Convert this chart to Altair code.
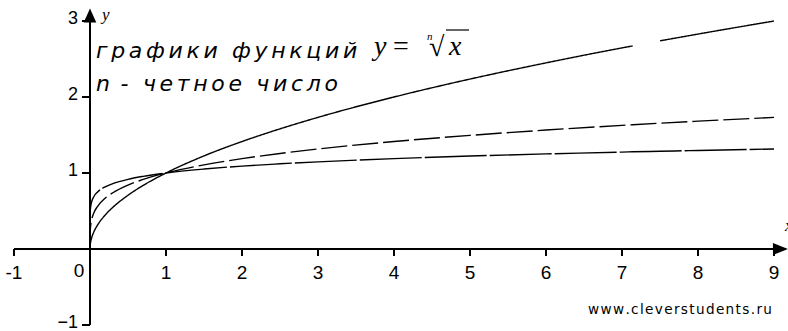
import altair as alt
import pandas as pd

# Sample points of the even-degree root functions y = x^(1/n)
xs = [0, 0.001, 0.005, 0.01, 0.02, 0.05, 0.1, 0.2, 0.3, 0.5, 0.7, 1,
      1.5, 2, 2.5, 3, 4, 5, 6, 7, 7.14, 7.5, 8, 9]
root2 = [0, 0.032, 0.071, 0.1, 0.141, 0.224, 0.316, 0.447, 0.548, 0.707, 0.837, 1,
         1.225, 1.414, 1.581, 1.732, 2, 2.236, 2.449, 2.646, 2.672, 2.739, 2.828, 3]
root4 = [0, 0.178, 0.266, 0.316, 0.376, 0.473, 0.562, 0.669, 0.740, 0.841, 0.915, 1,
         1.107, 1.189, 1.257, 1.316, 1.414, 1.495, 1.565, 1.627, 1.635, 1.655, 1.682, 1.732]
root8 = [0, 0.422, 0.516, 0.562, 0.613, 0.688, 0.750, 0.818, 0.860, 0.917, 0.956, 1,
         1.052, 1.091, 1.121, 1.147, 1.189, 1.223, 1.251, 1.275, 1.279, 1.286, 1.297, 1.316]
degrees = ["2", "4", "8"]
# the square-root curve is drawn in two pieces, broken between these x values
break_after = 7.14

x_ticks = [-1, 1, 2, 3, 4, 5, 6, 7, 8, 9]
x_tick_labels = ["-1", "1", "2", "3", "4", "5", "6", "7", "8", "9"]
y_ticks = [3, 2, 1, -1]
y_tick_labels = ["3", "2", "1", "\u22121"]

caption_words_1 = ["графики", "функций"]
caption_words_2 = ["n", "-"]
caption_words_3 = ["четное", "число"]

W, H = 788, 331
PX = 76.0             # pixels per unit on both axes
X0, Y0 = 90.0, 249.0  # pixel position of the origin

xscale = alt.Scale(domain=[-X0 / PX, (W - X0) / PX], nice=False, zero=False)
yscale = alt.Scale(domain=[-(H - Y0) / PX, Y0 / PX], nice=False, zero=False)

rows = []
for n, ys in zip(degrees, (root2, root4, root8)):
    for x, y in zip(xs, ys):
        piece = 1 if (n == "2" and x > break_after) else 0
        rows.append({"x": x, "y": y, "n": n, "piece": piece})
curves_df = pd.DataFrame(rows)

one = alt.Data(values=[{}])

curves = alt.Chart(curves_df).mark_line(
    color="black", strokeWidth=1.4, interpolate="monotone"
).encode(
    x=alt.X("x:Q", scale=xscale, axis=None),
    y=alt.Y("y:Q", scale=yscale, axis=None),
    strokeDash=alt.StrokeDash(
        "n:N",
        scale=alt.Scale(domain=degrees, range=[[1, 0], [26, 5], [62, 3]]),
        legend=None,
    ),
    detail="piece:N",
)

x_axis = alt.Chart(one).mark_rule(color="black", strokeWidth=2).encode(
    x=alt.datum(-1, scale=xscale), x2=alt.datum(9.1), y=alt.datum(0, scale=yscale)
)
y_axis = alt.Chart(one).mark_rule(color="black", strokeWidth=2).encode(
    x=alt.datum(0, scale=xscale), y=alt.datum(-1, scale=yscale), y2=alt.datum(3.05)
)
x_arrow = alt.Chart(one).mark_point(
    shape="M-1,-0.8L1,0L-1,0.8Z", filled=True, color="black", size=225, opacity=1
).encode(x=alt.datum(9.085, scale=xscale), y=alt.datum(0, scale=yscale))
y_arrow = alt.Chart(one).mark_point(
    shape="M0,-1L0.9,1L-0.9,1Z", filled=True, color="black", size=196, opacity=1
).encode(x=alt.datum(0, scale=xscale), y=alt.datum(3.072, scale=yscale))

xt_df = pd.DataFrame({"v": x_ticks, "label": x_tick_labels})
yt_df = pd.DataFrame({"v": y_ticks, "label": y_tick_labels})

x_tick_marks = alt.Chart(xt_df).mark_rule(color="black", strokeWidth=2).encode(
    x=alt.X("v:Q", scale=xscale), y=alt.value(Y0), y2=alt.value(Y0 + 7)
)
y_tick_marks = alt.Chart(yt_df).mark_rule(color="black", strokeWidth=2).encode(
    y=alt.Y("v:Q", scale=yscale), x=alt.value(X0 - 8), x2=alt.value(X0)
)

label_font = "Liberation Sans"
x_tick_text = alt.Chart(xt_df).mark_text(
    font=label_font, fontSize=19, baseline="middle", align="center", color="black"
).encode(x=alt.X("v:Q", scale=xscale), y=alt.value(Y0 + 24), text="label:N")
y_tick_text = alt.Chart(yt_df).mark_text(
    font=label_font, fontSize=18, baseline="middle", align="right", color="black",
    dx=-12, dy=-2,
).encode(y=alt.Y("v:Q", scale=yscale), x=alt.value(X0), text="label:N")
origin_text = alt.Chart(one).mark_text(
    font=label_font, fontSize=19, baseline="middle", align="center", color="black"
).encode(x=alt.value(79), y=alt.value(271), text=alt.value("0"))

axis_name_y = alt.Chart(one).mark_text(
    font="Liberation Serif", fontStyle="italic", fontSize=17, align="left",
    baseline="alphabetic", color="black"
).encode(x=alt.value(102), y=alt.value(20), text=alt.value("y"))
axis_name_x = alt.Chart(one).mark_text(
    font="Liberation Serif", fontStyle="italic", fontSize=17, align="left",
    baseline="alphabetic", color="black"
).encode(x=alt.value(785), y=alt.value(231), text=alt.value("x"))

# letter-spaced caption: narrow spaces between letters, wider gaps between words
sp = "\u2006"
nb = "\u00a0"
gap = sp + nb + sp
line1 = gap.join(sp.join(w) for w in caption_words_1)
line2 = (nb + sp).join(caption_words_2) + sp + nb + sp + \
    gap.join(sp.join(w) for w in caption_words_3)

caption_style = dict(font="DejaVu Sans", fontStyle="italic", fontSize=22, align="left",
                     baseline="alphabetic", color="black")
caption = alt.Chart(one).mark_text(**caption_style).encode(
    x=alt.value(96), y=alt.value(58), text=alt.value(line1))
caption2 = alt.Chart(one).mark_text(**caption_style).encode(
    x=alt.value(96), y=alt.value(91), text=alt.value(line2))

formula_font = dict(font="Liberation Serif", fontStyle="italic", color="black",
                    baseline="alphabetic", align="left")
formula_y = alt.Chart(one).mark_text(fontSize=28, **formula_font).encode(
    x=alt.value(374), y=alt.value(55), text=alt.value("y"))
formula_eq = alt.Chart(one).mark_text(
    fontSize=28, font="Liberation Serif", color="black", baseline="alphabetic", align="left"
).encode(x=alt.value(393), y=alt.value(55), text=alt.value("="))
formula_root = alt.Chart(one).mark_text(
    fontSize=28, font="Liberation Serif", color="black", baseline="alphabetic", align="left"
).encode(x=alt.value(429), y=alt.value(56), text=alt.value("\u221a"))
formula_x = alt.Chart(one).mark_text(fontSize=28, **formula_font).encode(
    x=alt.value(449), y=alt.value(55), text=alt.value("x"))
formula_index = alt.Chart(one).mark_text(fontSize=11, **formula_font).encode(
    x=alt.value(427), y=alt.value(40), text=alt.value("n"))
formula_bar = alt.Chart(one).mark_rule(color="black", strokeWidth=1.2).encode(
    x=alt.value(446), x2=alt.value(469), y=alt.value(30))

watermark = alt.Chart(one).mark_text(
    font="DejaVu Sans", fontSize=13.6, align="left", baseline="alphabetic", color="black"
).encode(x=alt.value(588), y=alt.value(314),
         text=alt.value("\u200a".join("www.cleverstudents.ru")))

chart = alt.layer(
    curves, x_axis, y_axis, x_arrow, y_arrow, x_tick_marks, y_tick_marks,
    x_tick_text, y_tick_text, origin_text, axis_name_y, axis_name_x,
    caption, caption2, formula_y, formula_eq, formula_root, formula_x,
    formula_index, formula_bar, watermark,
).properties(
    width=W, height=H, padding=0, autosize=alt.AutoSizeParams(type="none"),
    background="white",
).configure_view(stroke=None)

chart.save("out.html", embed_options={"renderer": "svg", "actions": False})
